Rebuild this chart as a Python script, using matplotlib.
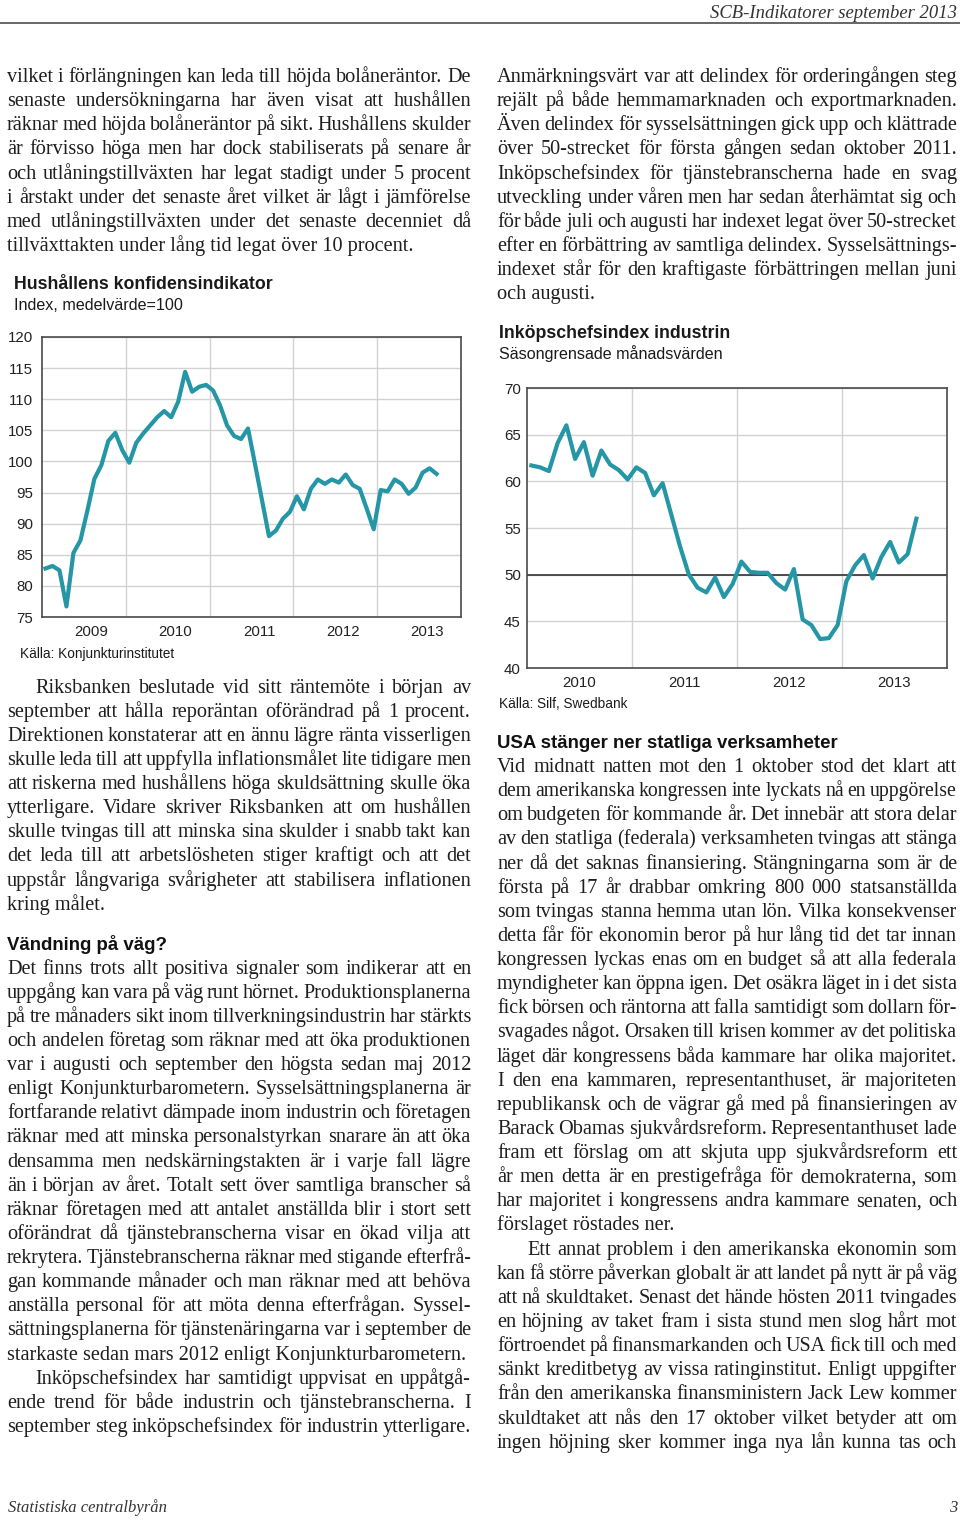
import matplotlib
matplotlib.use("Agg")
import matplotlib.pyplot as plt
from matplotlib.font_manager import FontProperties
import numpy as np

plt.rcParams['font.family'] = ['Liberation Sans', 'DejaVu Sans']

# ---- chart data ----
konf_start = 2009          # Jan 2009 .. Sep 2013, monthly
konf = [82.8, 83.2, 82.5, 76.7, 85.3, 87.3, 92.1, 97.2, 99.4, 103.3, 104.6, 101.8,
        99.8, 103.0, 104.5, 105.8, 107.1, 108.1, 107.1, 109.6, 114.4, 111.2, 112.0, 112.3,
        111.4, 109.0, 105.8, 104.1, 103.6, 105.3, 99.6, 93.8, 88.0, 88.9, 90.8, 91.9,
        94.4, 92.3, 95.6, 97.1, 96.4, 97.1, 96.6, 97.9, 96.2, 95.6, 92.4, 89.1,
        95.4, 95.2, 97.1, 96.4, 94.8, 95.8, 98.2, 98.9, 98.0]
konf_years = ['2009', '2010', '2011', '2012', '2013']

pmi_start = 2010           # Jan 2010 .. Sep 2013, monthly
pmi = [61.7, 61.5, 61.1, 64.1, 66.0, 62.4, 64.2, 60.6, 63.3, 61.8, 61.2, 60.2,
       61.5, 60.9, 58.5, 59.8, 56.4, 53.0, 50.0, 48.6, 48.1, 49.7, 47.6, 49.0,
       51.4, 50.3, 50.2, 50.2, 49.1, 48.4, 50.6, 45.2, 44.6, 43.1, 43.2, 44.6,
       49.3, 51.0, 52.1, 49.6, 51.9, 53.5, 51.3, 52.2, 56.0]
pmi_years = ['2010', '2011', '2012', '2013']

# ---- page text ----
left_top = [
    "vilket i förlängningen kan leda till höjda bolåneräntor. De",
    "senaste undersökningarna har även visat att hushållen",
    "räknar med höjda bolåneräntor på sikt. Hushållens skulder",
    "är förvisso höga men har dock stabiliserats på senare år",
    "och utlåningstillväxten har legat stadigt under 5 procent",
    "i årstakt under det senaste året vilket är lågt i jämförelse",
    "med utlåningstillväxten under det senaste decenniet då",
    "tillväxttakten under lång tid legat över 10 procent.",
]
left_riks = [
    "Riksbanken beslutade vid sitt räntemöte i början av",
    "september att hålla reporäntan oförändrad på 1 procent.",
    "Direktionen konstaterar att en ännu lägre ränta visserligen",
    "skulle leda till att uppfylla inflationsmålet lite tidigare men",
    "att riskerna med hushållens höga skuldsättning skulle öka",
    "ytterligare. Vidare skriver Riksbanken att om hushållen",
    "skulle tvingas till att minska sina skulder i snabb takt kan",
    "det leda till att arbetslösheten stiger kraftigt och att det",
    "uppstår långvariga svårigheter att stabilisera inflationen",
    "kring målet.",
]
left_vand = [
    "Det finns trots allt positiva signaler som indikerar att en",
    "uppgång kan vara på väg runt hörnet. Produktionsplanerna",
    "på tre månaders sikt inom tillverkningsindustrin har stärkts",
    "och andelen företag som räknar med att öka produktionen",
    "var i augusti och september den högsta sedan maj 2012",
    "enligt Konjunkturbarometern. Sysselsättningsplanerna är",
    "fortfarande relativt dämpade inom industrin och företagen",
    "räknar med att minska personalstyrkan snarare än att öka",
    "densamma men nedskärningstakten är i varje fall lägre",
    "än i början av året. Totalt sett över samtliga branscher så",
    "räknar företagen med att antalet anställda blir i stort sett",
    "oförändrat då tjänstebranscherna visar en ökad vilja att",
    "rekrytera. Tjänstebranscherna räknar med stigande efterfrå-",
    "gan kommande månader och man räknar med att behöva",
    "anställa personal för att möta denna efterfrågan. Syssel-",
    "sättningsplanerna för tjänstenäringarna var i september de",
    "starkaste sedan mars 2012 enligt Konjunkturbarometern.",
]
left_ink = [
    "Inköpschefsindex har samtidigt uppvisat en uppåtgå-",
    "ende trend för både industrin och tjänstebranscherna. I",
    "september steg inköpschefsindex för industrin ytterligare.",
]
right_top = [
    "Anmärkningsvärt var att delindex för orderingången steg",
    "rejält på både hemmamarknaden och exportmarknaden.",
    "Även delindex för sysselsättningen gick upp och klättrade",
    "över 50-strecket för första gången sedan oktober 2011.",
    "Inköpschefsindex för tjänstebranscherna hade en svag",
    "utveckling under våren men har sedan återhämtat sig och",
    "för både juli och augusti har indexet legat över 50-strecket",
    "efter en förbättring av samtliga delindex. Sysselsättnings-",
    "indexet står för den kraftigaste förbättringen mellan juni",
    "och augusti.",
]
right_usa = [
    "Vid midnatt natten mot den 1 oktober stod det klart att",
    "dem amerikanska kongressen inte lyckats nå en uppgörelse",
    "om budgeten för kommande år. Det innebär att stora delar",
    "av den statliga (federala) verksamheten tvingas att stänga",
    "ner då det saknas finansiering. Stängningarna som är de",
    "första på 17 år drabbar omkring 800 000 statsanställda",
    "som tvingas stanna hemma utan lön. Vilka konsekvenser",
    "detta får för ekonomin beror på hur lång tid det tar innan",
    "kongressen lyckas enas om en budget så att alla federala",
    "myndigheter kan öppna igen. Det osäkra läget in i det sista",
    "fick börsen och räntorna att falla samtidigt som dollarn för-",
    "svagades något. Orsaken till krisen kommer av det politiska",
    "läget där kongressens båda kammare har olika majoritet.",
    "I den ena kammaren, representanthuset, är majoriteten",
    "republikansk och de vägrar gå med på finansieringen av",
    "Barack Obamas sjukvårdsreform. Representanthuset lade",
    "fram ett förslag om att skjuta upp sjukvårdsreform ett",
    "år men detta är en prestigefråga för demokraterna, som",
    "har majoritet i kongressens andra kammare senaten, och",
    "förslaget röstades ner.",
]
right_annat = [
    "Ett annat problem i den amerikanska ekonomin som",
    "kan få större påverkan globalt är att landet på nytt är på väg",
    "att nå skuldtaket. Senast det hände hösten 2011 tvingades",
    "en höjning av taket fram i sista stund men slog hårt mot",
    "förtroendet på finansmarkanden och USA fick till och med",
    "sänkt kreditbetyg av vissa ratinginstitut. Enligt uppgifter",
    "från den amerikanska finansministern Jack Lew kommer",
    "skuldtaket att nås den 17 oktober vilket betyder att om",
    "ingen höjning sker kommer inga nya lån kunna tas och",
]

W, H = 960, 1523
fig = plt.figure(figsize=(9.6, 15.23), dpi=100)
page = fig.add_axes([0, 0, 1, 1])
page.set_xlim(0, W)
page.set_ylim(H, 0)
page.axis('off')
renderer = fig.canvas.get_renderer()

TXT = '#1e1e1e'
BODY = 14.6
serif = FontProperties(family='Liberation Serif', size=BODY)
head = FontProperties(family='Liberation Sans', weight='bold', size=13.4)
LEAD = 24.13


def width(s, fp):
    return renderer.get_text_width_height_descent(s, fp, ismath=False)[0]


def paragraph(lines, x0, x1, y0, indent=0, last_free=True):
    for k, line in enumerate(lines):
        y = y0 + k * LEAD
        xs = x0 + (indent if k == 0 else 0)
        words = line.split()
        if (k == len(lines) - 1 and last_free) or len(words) == 1:
            page.text(xs, y, line, fontproperties=serif, va='baseline', color=TXT)
            continue
        fp = serif.copy()
        size = BODY
        while True:
            ws = [width(w, fp) for w in words]
            gap = (x1 - xs - sum(ws)) / (len(words) - 1)
            if gap >= 3.4 or size < 13.2:
                break
            size -= 0.1
            fp.set_size(size)
        x = xs
        for w, ww in zip(words, ws):
            page.text(x, y, w, fontproperties=fp, va='baseline', color=TXT)
            x += ww + gap


# header / footer
page.plot([0, W], [22.5, 22.5], color='#5a5a5a', lw=1.3)
page.text(957, 17.5, "SCB-Indikatorer september 2013", family='Liberation Serif',
          style='italic', size=13.4, ha='right', va='baseline', color='#333333')
page.text(8, 1512, "Statistiska centralbyrån", family='Liberation Serif',
          style='italic', size=12, va='baseline', color='#333333')
page.text(957, 1512, "3", family='Liberation Serif', style='italic', size=12,
          ha='right', va='baseline', color='#333333')

# left column
LX0, LX1 = 7, 471
paragraph(left_top, LX0, LX1, 82)
paragraph(left_riks, LX0, LX1, 692.5, indent=28)
page.text(7, 949.5, "Vändning på väg?", fontproperties=head, va='baseline', color='#111111')
paragraph(left_vand, LX0, LX1, 973.5)
paragraph(left_ink, LX0, LX1, 973.5 + 17 * LEAD, indent=28, last_free=False)

# right column
RX0, RX1 = 497, 957
paragraph(right_top, RX0, RX1, 82)
page.text(497, 748, "USA stänger ner statliga verksamheter", fontproperties=head,
          va='baseline', color='#111111')
paragraph(right_usa, RX0, RX1, 772)
paragraph(right_annat, RX0, RX1, 772 + 20 * LEAD, indent=30, last_free=False)

LINE = '#2596a6'


def chart(l, r, t, b, start, vals, ylo, yhi, years, lab_off, ypad, hline=None):
    ax = fig.add_axes([l / W, 1 - b / H, (r - l) / W, (b - t) / H])
    x = start + (np.arange(len(vals)) + 0.5) / 12
    ax.plot(x, vals, color=LINE, lw=3, solid_joinstyle='round', zorder=3)
    if hline is not None:
        ax.axhline(hline, color='#333333', lw=1.2, zorder=2)
    ax.set_xlim(start, 2014)
    ax.set_ylim(ylo, yhi)
    ax.set_yticks(np.arange(ylo, yhi + 1, 5))
    ax.set_xticks(np.arange(start + 1, 2014))
    ax.set_xticklabels([])
    ax.set_xticks([int(y) + lab_off for y in years], minor=True)
    ax.set_xticklabels(years, minor=True)
    ax.tick_params(which='both', length=0)
    ax.tick_params(axis='y', labelsize=10.8, pad=ypad, colors='#222222')
    ax.tick_params(axis='x', which='minor', labelsize=10.8, pad=5.6, colors='#222222')
    ax.grid(which='major', color='#d2d2d2', lw=1.0)
    ax.set_axisbelow(True)
    for s in ax.spines.values():
        s.set_color('#4a4a4a')
        s.set_linewidth(1.2)
    return ax


chart(42, 461, 337, 617, konf_start, konf, 75, 120, konf_years, 0.59, 6.5)
page.text(14, 289, "Hushållens konfidensindikator", family='Liberation Sans',
          weight='bold', size=12.8, va='baseline', color='#1a1a1a')
page.text(14, 310, "Index, medelvärde=100", family='Liberation Sans', size=11.6,
          va='baseline', color='#1a1a1a')
page.text(20.5, 657.5, "Källa: Konjunkturinstitutet", family='Liberation Sans',
          size=9.8, va='baseline', color='#1a1a1a')

chart(527, 947, 388, 668, pmi_start, pmi, 40, 70, pmi_years, 0.5, 4.5, hline=50)
page.text(499, 337.5, "Inköpschefsindex industrin", family='Liberation Sans',
          weight='bold', size=12.8, va='baseline', color='#1a1a1a')
page.text(499, 358.5, "Säsongrensade månadsvärden", family='Liberation Sans', size=11.6,
          va='baseline', color='#1a1a1a')
page.text(499, 708, "Källa: Silf, Swedbank", family='Liberation Sans',
          size=9.8, va='baseline', color='#1a1a1a')

fig.savefig('out.png', dpi=100)
